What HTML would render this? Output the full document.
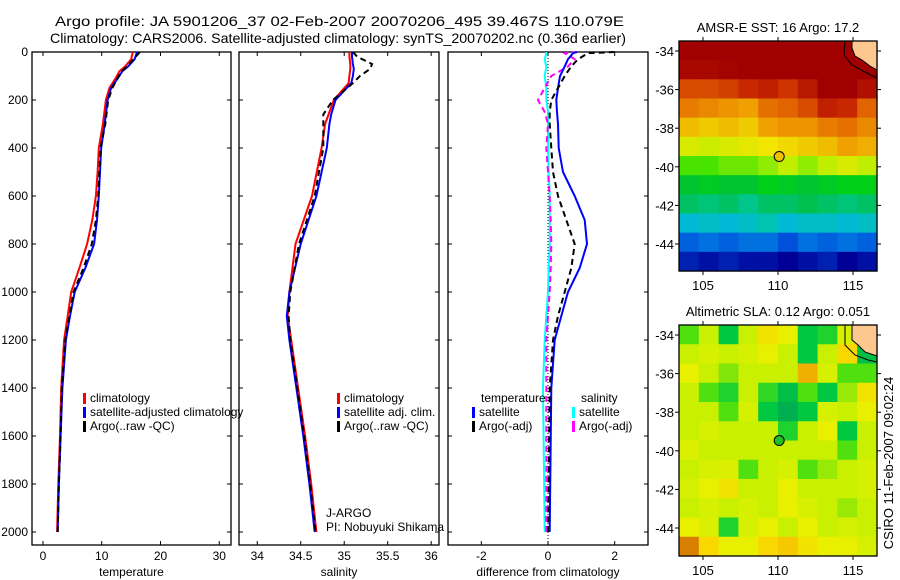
<!DOCTYPE html>
<html><head><meta charset="utf-8"><style>
html,body{margin:0;padding:0;background:#fff}
svg{display:block;font-family:"Liberation Sans",sans-serif}
</style></head><body>
<svg id="chart" width="900" height="580" viewBox="0 0 900 580" xmlns="http://www.w3.org/2000/svg">
<text x="55" y="26" font-size="14" textLength="569" lengthAdjust="spacingAndGlyphs">Argo profile: JA 5901206_37 02-Feb-2007 20070206_495 39.467S 110.079E</text>
<text x="50" y="43" font-size="14" textLength="576" lengthAdjust="spacingAndGlyphs">Climatology: CARS2006. Satellite-adjusted climatology: synTS_20070202.nc (0.36d earlier)</text>
<g id="g"></g>
</svg>
<script>
// ---- profile data ----
const depthT = [0,30,60,80,100,150,200,300,400,500,600,700,800,900,1000,1100,1200,1400,1600,1800,2000];
const tempClim = [15.3,15.0,14.0,13.0,12.6,11.3,10.7,10.2,9.5,9.3,9.0,8.4,7.5,6.2,4.8,4.2,3.6,3.1,2.9,2.6,2.4];
const tempSat  = [16.0,15.6,14.5,13.5,13.0,11.6,11.0,10.5,9.9,9.7,9.5,9.2,8.7,7.2,5.4,4.6,3.9,3.3,3.0,2.7,2.5];
const tempArgo = [16.5,15.4,14.3,13.4,12.9,11.8,11.1,10.6,9.8,9.6,9.4,9.0,8.3,6.9,5.2,4.5,3.8,3.2,3.0,2.7,2.5];
const depthS = [0,20,50,70,100,130,200,260,300,400,600,800,1000,1100,1200,1400,1600,1800,2000];
const salClim = [35.06,35.06,35.07,35.07,35.06,35.05,34.88,34.82,34.78,34.74,34.63,34.44,34.37,34.35,34.39,34.47,34.55,34.62,34.68];
const salSat  = [35.09,35.09,35.10,35.11,35.10,35.08,34.90,34.85,34.83,34.80,34.68,34.50,34.37,34.34,34.37,34.45,34.53,34.60,34.66];
const salArgo = [35.10,35.15,35.32,35.30,35.18,35.10,34.87,34.76,34.76,34.76,34.66,34.48,34.38,34.36,34.38,34.46,34.54,34.61,34.67];
const depthD = [0,5,30,60,100,150,200,250,300,400,500,600,700,800,900,1000,1100,1200,1400,2000];
const dTempSat  = [0.87,0.75,0.6,0.5,0.36,0.3,0.25,0.27,0.3,0.32,0.45,0.8,1.1,1.17,0.95,0.6,0.4,0.2,0.1,0.05];
const dTempArgo = [2.0,1.2,0.9,0.7,0.5,0.3,0.1,0.05,0.05,0.1,0.15,0.3,0.55,0.8,0.7,0.5,0.3,0.15,0.05,0.0];
const dSalSat   = [-0.05,-0.05,-0.1,-0.05,-0.1,-0.05,-0.05,0.0,0.0,0.0,0.02,0.05,0.05,0.05,0.02,0.0,-0.05,-0.1,-0.15,-0.1];
const dSalArgo  = [0.9,0.5,0.8,0.6,0.1,-0.1,-0.3,-0.1,0.0,-0.05,0.0,0.05,0.08,0.1,0.08,0.05,0.0,-0.05,-0.05,-0.05];
const depthTicks = [0,200,400,600,800,1000,1200,1400,1600,1800,2000];
const tempTicks = [0,10,20,30];
const salTicks = [34,34.5,35,35.5,36];
const diffTicks = [-2,0,2];
// ---- map data ----
const lonTicks = [105,110,115];
const latTicks = [-34,-36,-38,-40,-42,-44];
const sstGrid = [
[19,19,19,19,19,19,19,19,19,19],
[18.9,18.9,18.95,19,19,19,19,19,19,19],
[18.2,18.2,18.3,18.5,18.6,18.4,18.7,19,19,18.8],
[17.8,17.7,17.6,17.5,17.9,18.0,18.2,18.6,18.5,18.0],
[17.3,17.2,17.3,17.2,17.5,17.6,17.6,17.8,17.9,17.7],
[16.8,16.7,16.8,16.9,17.0,17.1,17.2,17.3,17.5,17.4],
[16.2,16.2,16.3,16.3,16.4,16.6,16.4,16.6,16.8,16.6],
[15.6,15.7,15.6,15.6,15.8,15.7,15.6,15.7,15.8,15.8],
[15.3,15.2,15.3,15.1,15.3,15.3,15.4,15.3,15.2,15.3],
[14.7,14.8,14.7,14.8,14.9,14.7,14.8,14.8,14.7,14.8],
[14.1,14.2,14.1,14.2,14.2,14.0,14.2,14.1,14.2,14.1],
[13.7,13.6,13.7,13.6,13.6,13.5,13.6,13.7,13.5,13.6]];
const slaGrid = [
[-0.05,0.0,-0.1,0.0,0.08,0.05,-0.1,-0.08,0.02,-0.1],
[0.0,0.02,0.0,0.02,0.05,0.0,-0.1,0.0,0.1,-0.12],
[0.05,0.0,-0.03,0.0,0.0,0.0,0.15,0.02,-0.05,-0.05],
[0.0,-0.05,-0.08,0.0,-0.07,-0.12,-0.05,-0.1,-0.02,0.08],
[0.0,0.0,-0.05,0.02,-0.1,-0.15,-0.1,0.02,0.0,0.05],
[0.0,0.02,0.0,0.0,0.0,-0.08,0.0,0.05,-0.1,0.0],
[0.03,0.0,0.0,0.0,0.0,0.0,0.0,0.0,-0.05,0.0],
[0.0,0.02,0.03,-0.05,0.0,0.02,-0.05,-0.02,0.0,0.02],
[0.02,0.05,0.08,0.0,0.0,0.05,0.0,0.0,0.0,0.02],
[0.0,0.02,0.0,0.02,0.0,0.05,0.02,0.0,-0.02,0.0],
[0.05,0.03,-0.08,0.02,0.05,0.0,0.05,0.0,0.02,0.0],
[0.2,0.1,0.05,0.05,0.1,0.12,0.08,0.05,0.05,0.02]];
const argoLon = 110.079, argoLat = -39.467;

const NS='http://www.w3.org/2000/svg';
const G=document.getElementById('g');
function mk(tag,attrs,parent){const e=document.createElementNS(NS,tag);for(const k in attrs)e.setAttribute(k,attrs[k]);(parent||G).appendChild(e);return e;}
function txt(s,x,y,attrs){const e=mk('text',Object.assign({x:x,y:y,'font-size':12},attrs||{}));e.textContent=s;return e;}

const Y0=52, YS=0.24; // depth scale
const yD=d=>Y0+d*YS;
const panels=[
 {name:'temperature',x0:32,x1:231,d0:-1.87,d1:32.0,ticks:tempTicks,label:'temperature'},
 {name:'salinity',x0:239,x1:439,d0:33.79,d1:36.09,ticks:salTicks,label:'salinity'},
 {name:'difference',x0:448,x1:648,d0:-3,d1:3,ticks:diffTicks,label:'difference from climatology'}];
const pTop=52,pBot=545;
panels.forEach((p,i)=>{
 p.sx=v=>p.x0+(v-p.d0)/(p.d1-p.d0)*(p.x1-p.x0);
 const fr=mk('rect',{x:p.x0,y:pTop,width:p.x1-p.x0,height:pBot-pTop,fill:'none',stroke:'#000','stroke-width':1.3});
 
 
 p.ticks.forEach(t=>{
  const x=p.sx(t);
  mk('line',{x1:x,y1:pTop,x2:x,y2:pTop+4,stroke:'#000'});
  mk('line',{x1:x,y1:pBot,x2:x,y2:pBot-4,stroke:'#000'});
  const l=txt(String(t),x,560,{'text-anchor':'middle'});
  
  
 });
 depthTicks.forEach(d=>{
  const y=yD(d);
  mk('line',{x1:p.x0,y1:y,x2:p.x0+4,y2:y,stroke:'#000'});
  mk('line',{x1:p.x1,y1:y,x2:p.x1-4,y2:y,stroke:'#000'});
  if(i===0){const l=txt(String(d),28,y+4,{'text-anchor':'end'});
   
   }
 });
 const al=txt(p.label,(p.x0+p.x1)/2,576,{'text-anchor':'middle'});
 
 
});
function line(p,vals,depths,color,dash,name){
 const pts=vals.map((v,k)=>p.sx(v).toFixed(1)+','+yD(depths[k]).toFixed(1)).join(' ');
 const e=mk('polyline',{points:pts,fill:'none',stroke:color,'stroke-width':2,'stroke-dasharray':dash||'none'});
 
 
}
const z=panels[2].sx(0);
mk('line',{x1:z,y1:pTop,x2:z,y2:pBot,stroke:'#000','stroke-dasharray':'1,2','stroke-width':1});
line(panels[0],tempClim,depthT,'#f00',null,'temp-climatology-line');
line(panels[0],tempSat,depthT,'#00f',null,'temp-satellite-line');
line(panels[0],tempArgo,depthT,'#000','6,4','temp-argo-line');
line(panels[1],salClim,depthS,'#f00',null,'sal-climatology-line');
line(panels[1],salSat,depthS,'#00f',null,'sal-satellite-line');
line(panels[1],salArgo,depthS,'#000','6,4','sal-argo-line');
line(panels[2],dSalSat,depthD,'#0ff',null,'diff-sal-satellite-line');
line(panels[2],dSalArgo,depthD,'#f0f','6,4','diff-sal-argo-line');
line(panels[2],dTempSat,depthD,'#00f',null,'diff-temp-satellite-line');
line(panels[2],dTempArgo,depthD,'#000','6,4','diff-temp-argo-line');
function leg(x,y,color,label,name){
 const b=mk('rect',{x:x,y:y-9,width:3,height:11,fill:color});
 
 
 const t=txt(label,x+7,y,{'font-size':12});
 
 
}
leg(83,402,'#f00','climatology','legend-climatology');
leg(83,416,'#00f','satellite-adjusted climatology','legend-satellite-adjusted');
leg(83,430,'#000','Argo(..raw -QC)','legend-argo');
leg(337,402,'#f00','climatology','legend-sal-climatology');
leg(337,416,'#00f','satellite adj. clim.','legend-sal-satellite');
leg(337,430,'#000','Argo(..raw -QC)','legend-sal-argo');
let t1=txt('temperature',481,402);
let t2=txt('salinity',581,402);
leg(472,416,'#00f','satellite','legend-diff-temp-satellite');
leg(472,430,'#000','Argo(-adj)','legend-diff-temp-argo');
leg(572,416,'#0ff','satellite','legend-diff-sal-satellite');
leg(572,430,'#f0f','Argo(-adj)','legend-diff-sal-argo');
let j1=txt('J-ARGO',326,517);
let j2=txt('PI: Nobuyuki Shikama',326,531);

function lerpColor(stops,v){
 if(v<=stops[0][0])return 'rgb('+stops[0][1].join(',')+')';
 for(let k=1;k<stops.length;k++){if(v<=stops[k][0]){const a=stops[k-1],b=stops[k],f=(v-a[0])/(b[0]-a[0]);
  const c=a[1].map((x,i)=>Math.round(x+(b[1][i]-x)*f));return 'rgb('+c.join(',')+')';}}
 return 'rgb('+stops[stops.length-1][1].join(',')+')';
}
const sstStops=[[13.5,[0,0,150]],[14,[0,80,220]],[14.6,[0,180,230]],[15,[0,200,160]],[15.5,[0,190,60]],[16,[0,220,0]],[16.5,[180,240,0]],[17,[240,230,0]],[17.5,[240,160,0]],[18,[225,100,0]],[18.5,[200,40,0]],[19,[160,0,0]]];
const slaStops=[[-0.15,[0,176,80]],[-0.1,[0,200,64]],[-0.05,[80,224,16]],[0,[200,240,0]],[0.05,[232,240,0]],[0.1,[248,216,0]],[0.15,[240,176,0]],[0.25,[192,80,0]]];
function drawMap(o){
 const lonS=v=>o.x0+(v-o.lon0)/(o.lon1-o.lon0)*(o.x1-o.x0);
 const latS=v=>o.latY(v);
 const rows=o.grid.length, cols=o.grid[0].length;
 const cw=(o.x1-o.x0)/cols, ch=(o.y1-o.y0)/rows;
 o.grid.forEach((row,r)=>row.forEach((v,c)=>{
  const e=mk('rect',{x:(o.x0+c*cw).toFixed(2),y:(o.y0+r*ch).toFixed(2),width:(cw+0.6).toFixed(2),height:(ch+0.6).toFixed(2),fill:lerpColor(o.stops,v)});
  
  
 }));
 const land=mk('polygon',{points:o.land,fill:'#fcc890',stroke:'#000','stroke-width':1});
 
 
 mk('polyline',{points:o.contour,fill:'none',stroke:'#000','stroke-width':1});
 const fr=mk('rect',{x:o.x0,y:o.y0,width:o.x1-o.x0,height:o.y1-o.y0,fill:'none',stroke:'#000','stroke-width':1.3});
 
 
 lonTicks.forEach(l=>{const x=lonS(l);
  mk('line',{x1:x,y1:o.y0,x2:x,y2:o.y0-4,stroke:'#000'});mk('line',{x1:x,y1:o.y1,x2:x,y2:o.y1+4,stroke:'#000'});
  const t=txt(String(l),x,o.y1+19,{'text-anchor':'middle','font-size':13});
  });
 latTicks.forEach(l=>{const y=latS(l);
  mk('line',{x1:o.x0,y1:y,x2:o.x0-4,y2:y,stroke:'#000'});mk('line',{x1:o.x1,y1:y,x2:o.x1+4,y2:y,stroke:'#000'});
  const t=txt(String(l),o.x0-5,y+5,{'text-anchor':'end','font-size':13});
  });
 const d=mk('circle',{cx:lonS(argoLon),cy:latS(argoLat),r:5,fill:o.dot,stroke:'#000','stroke-width':1});
 
 
 const tt=txt(o.title,(o.x0+o.x1)/2,o.titleY,{'text-anchor':'middle','font-size':13});
 
}
drawMap({name:'sst-map',x0:679,x1:877,y0:41,y1:271,lon0:103.4,lon1:116.6,latY:v=>51+(-34-v)*19.3,grid:sstGrid,stops:sstStops,dot:'#f0c000',
 land:'852,41 852,48 855,56 862,60 870,66 877,70 877,41',contour:'845,41 844,55 852,65 865,72 877,78',title:'AMSR-E SST: 16 Argo: 17.2',titleY:32});
drawMap({name:'sla-map',x0:679,x1:877,y0:325,y1:556,lon0:103.4,lon1:116.6,latY:v=>335+(-34-v)*19.3,grid:slaGrid,stops:slaStops,dot:'#20c020',
 land:'852,325 852,340 858,345 865,352 877,356 877,325',contour:'845,325 845,345 855,355 868,360 877,362',title:'Altimetric SLA: 0.12 Argo: 0.051',titleY:316});
const cs=txt('CSIRO 11-Feb-2007 09:02:24',0,0,{'font-size':13,'text-anchor':'middle',transform:'translate(893,463) rotate(-90)'});


</script>
</body></html>
